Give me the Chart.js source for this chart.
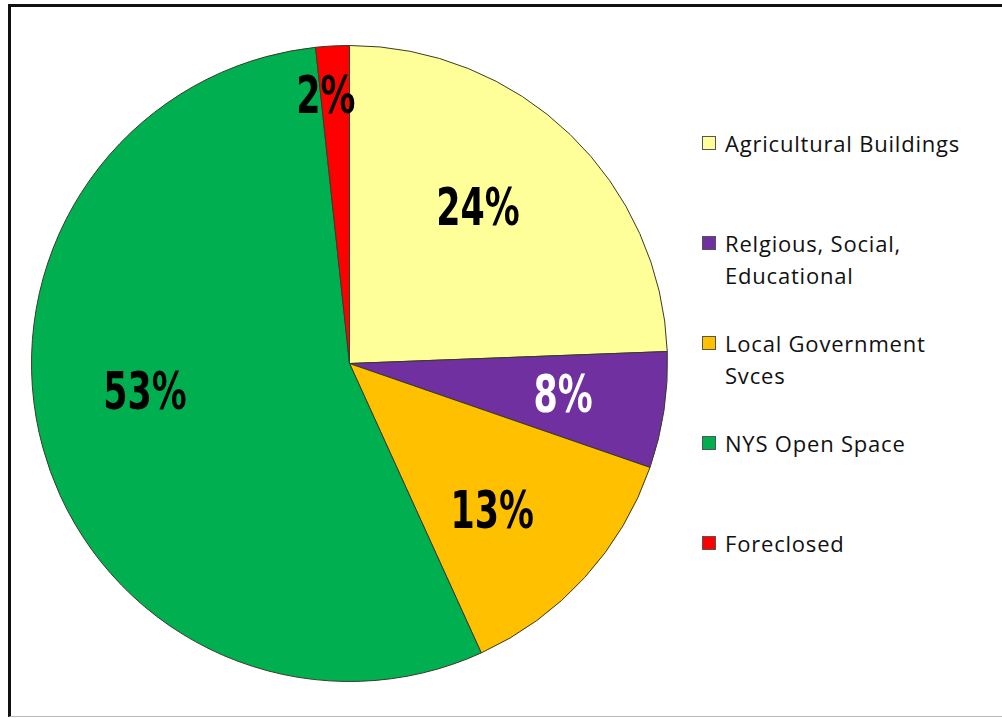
<!DOCTYPE html>
<html>
<head>
<meta charset="utf-8">
<script src="https://cdn.jsdelivr.net/npm/chart.js@4/dist/chart.umd.min.js"></script>
<style>
  html, body { margin: 0; padding: 0; background: #fff; }
  body { width: 1002px; height: 718px; position: relative; overflow: hidden; }
  #frame {
    position: absolute; left: 8px; top: 4px; width: 1100px; height: 709px;
    border-left: 3px solid #111; border-top: 3px solid #111; border-bottom: 1px solid #bbb;
  }
  #wrap { position: absolute; left: 31px; top: 45px; width: 637px; height: 637px; }
  #legend { position: absolute; left: 702px; top: 0; font-family: "Open Sans", sans-serif; font-size: 22px; letter-spacing: 0.8px; color: #111; }
  .item { position: absolute; left: 0; white-space: nowrap; line-height: 32px; }
  .box { position: absolute; left: 0; top: 9px; width: 12px; height: 12px; border: 1px solid #555; }
  .txt { position: absolute; left: 23px; top: 0; }
</style>
</head>
<body>
<div id="frame"></div>
<div id="wrap"><canvas id="landUseChart"></canvas></div>
<div id="legend"></div>
<script>
const categories = [
  ['Agricultural Buildings'],
  ['Relgious, Social,', 'Educational'],
  ['Local Government', 'Svces'],
  ['NYS Open Space'],
  ['Foreclosed']
];
// slice sizes
const shares = [24.4, 5.9, 12.9, 55.1, 1.7];
// percentages as printed on the slices
const pctLabels = ['24%', '8%', '13%', '53%', '2%'];
const colors = ['#FFFF99', '#7030A0', '#FFC000', '#00B050', '#FF0000'];
const labelColors = ['#000', '#fff', '#000', '#000', '#000'];

// where each printed label sits: fraction of radius, nudge in degrees
const placement = [
  { r: 0.63, da: -4 },
  { r: 0.68, da: 0.5 },
  { r: 0.65, da: 4 },
  { r: 0.65, da: 7 },
  { r: 0.84, da: -2 }
];

const sliceLabels = {
  id: 'sliceLabels',
  afterDatasetsDraw(chart) {
    const ctx = chart.ctx;
    const arcs = chart.getDatasetMeta(0).data;
    arcs.forEach((arc, i) => {
      const p = arc.getProps(['x', 'y', 'startAngle', 'endAngle', 'outerRadius'], true);
      const a = (p.startAngle + p.endAngle) / 2 + placement[i].da * Math.PI / 180;
      const r = p.outerRadius * placement[i].r;
      ctx.save();
      ctx.translate(p.x + Math.cos(a) * r, p.y + Math.sin(a) * r + 2);
      ctx.scale(0.76, 1);   // narrow bold look
      ctx.font = 'bold 51px "DejaVu Sans Condensed", "DejaVu Sans", sans-serif';
      ctx.textAlign = 'center';
      ctx.textBaseline = 'middle';
      ctx.fillStyle = labelColors[i];
      ctx.fillText(pctLabels[i], 0, 0);
      ctx.restore();
    });
  }
};

const landUseCtx = document.getElementById('landUseChart').getContext('2d');
const landUseChart = new Chart(landUseCtx, {
  type: 'pie',
  data: {
    labels: categories,
    datasets: [{
      data: shares,
      backgroundColor: colors,
      borderColor: '#3a3a2a',
      borderWidth: 1
    }]
  },
  options: {
    responsive: true,
    maintainAspectRatio: false,
    animation: false,
    layout: { padding: 0 },
    plugins: {
      legend: { display: false },
      tooltip: { enabled: false }
    }
  },
  plugins: [sliceLabels]
});

// html legend so the long names can break over two lines
const legendEl = document.getElementById('legend');
categories.forEach((lines, i) => {
  const item = document.createElement('div');
  item.className = 'item';
  item.style.top = (127 + i * 100) + 'px';
  const box = document.createElement('div');
  box.className = 'box';
  box.style.background = colors[i];
  const txt = document.createElement('div');
  txt.className = 'txt';
  txt.innerHTML = lines.join('<br>');
  item.appendChild(box);
  item.appendChild(txt);
  legendEl.appendChild(item);
});
</script>
</body>
</html>
